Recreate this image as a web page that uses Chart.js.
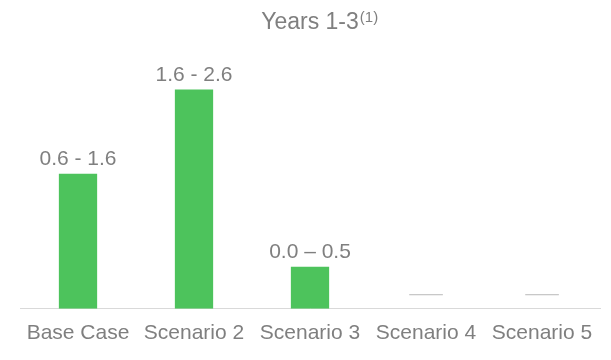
<!DOCTYPE html>
<html>
<head>
<meta charset="utf-8">
<script src="https://cdn.jsdelivr.net/npm/chart.js@4"></script>
<style>
  html, body { margin: 0; padding: 0; background: #fff; }
  #wrap { width: 611px; height: 360px; }
</style>
</head>
<body>
<div id="wrap"><canvas id="yearsChart"></canvas></div>
<script>
// categories and values (bar height = top of range)
var scenarios = ['Base Case', 'Scenario 2', 'Scenario 3', 'Scenario 4', 'Scenario 5'];
var upperValues = [1.6, 2.6, 0.5, 0, 0];
var rangeLabels = ['0.6 - 1.6', '1.6 - 2.6', '0.0 \u2013 0.5', '\u2014', '\u2014'];
var titleText = 'Years 1-3';
var titleNote = '(1)';

var labelFont = '"Liberation Sans", Arial, sans-serif';
var textGray = '#7f7f7f';

// draws the range text above each bar
var rangeLabelPlugin = {
    id: 'rangeLabels',
    afterDatasetsDraw: function(chart) {
        var ctx = chart.ctx;
        var meta = chart.getDatasetMeta(0);
        meta.data.forEach(function(bar, i) {
            ctx.save();
            ctx.font = '21px ' + labelFont;
            ctx.textAlign = 'center';
            ctx.textBaseline = 'alphabetic';
            ctx.translate(bar.x, bar.y - 9);
            if (upperValues[i] === 0) {
                // empty scenarios just get a wide light dash
                ctx.fillStyle = '#c8c8c8';
                ctx.scale(1.6, 1);
            } else {
                ctx.fillStyle = textGray;
            }
            ctx.fillText(rangeLabels[i], 0, 0);
            ctx.restore();
        });
    }
};

// footnote marker written as superscript after the title
var titleNotePlugin = {
    id: 'titleNote',
    afterDraw: function(chart) {
        var tb = chart.titleBlock;
        if (!tb) return;
        var ctx = chart.ctx;
        ctx.save();
        ctx.font = '23px ' + labelFont;
        var w = ctx.measureText(titleText).width;
        var cx = tb.left + tb.width / 2;
        var pad = tb.options.padding;
        var midY = tb.top + pad.top + (tb.height - pad.top - pad.bottom) / 2;
        ctx.font = '15px ' + labelFont;
        ctx.fillStyle = textGray;
        ctx.textAlign = 'left';
        ctx.textBaseline = 'alphabetic';
        ctx.fillText(titleNote, cx + w / 2 + 1, midY - 1);
        ctx.restore();
    }
};

var chart = new Chart(document.getElementById('yearsChart'), {
    type: 'bar',
    data: {
        labels: scenarios,
        datasets: [{
            label: 'Years 1-3',
            data: upperValues,
            backgroundColor: '#4dc35c',
            borderWidth: 0,
            categoryPercentage: 1,
            barPercentage: 0.33
        }]
    },
    options: {
        responsive: true,
        maintainAspectRatio: false,
        animation: false,
        layout: { padding: { left: 20, right: 11, top: 0, bottom: 2 } },
        plugins: {
            legend: { display: false },
            tooltip: { enabled: false },
            title: {
                display: true,
                text: titleText,
                color: textGray,
                font: { family: labelFont, size: 23, weight: 'normal' },
                padding: { top: 9, bottom: 4 }
            }
        },
        scales: {
            x: {
                grid: { display: false, drawTicks: false },
                border: { display: true, color: '#d9d9d9', width: 1 },
                ticks: {
                    color: textGray,
                    font: { family: labelFont, size: 21 },
                    padding: 12,
                    maxRotation: 0,
                    autoSkip: false
                }
            },
            y: {
                display: false,
                min: 0,
                max: 3.18
            }
        }
    },
    plugins: [rangeLabelPlugin, titleNotePlugin]
});
</script>
</body>
</html>
